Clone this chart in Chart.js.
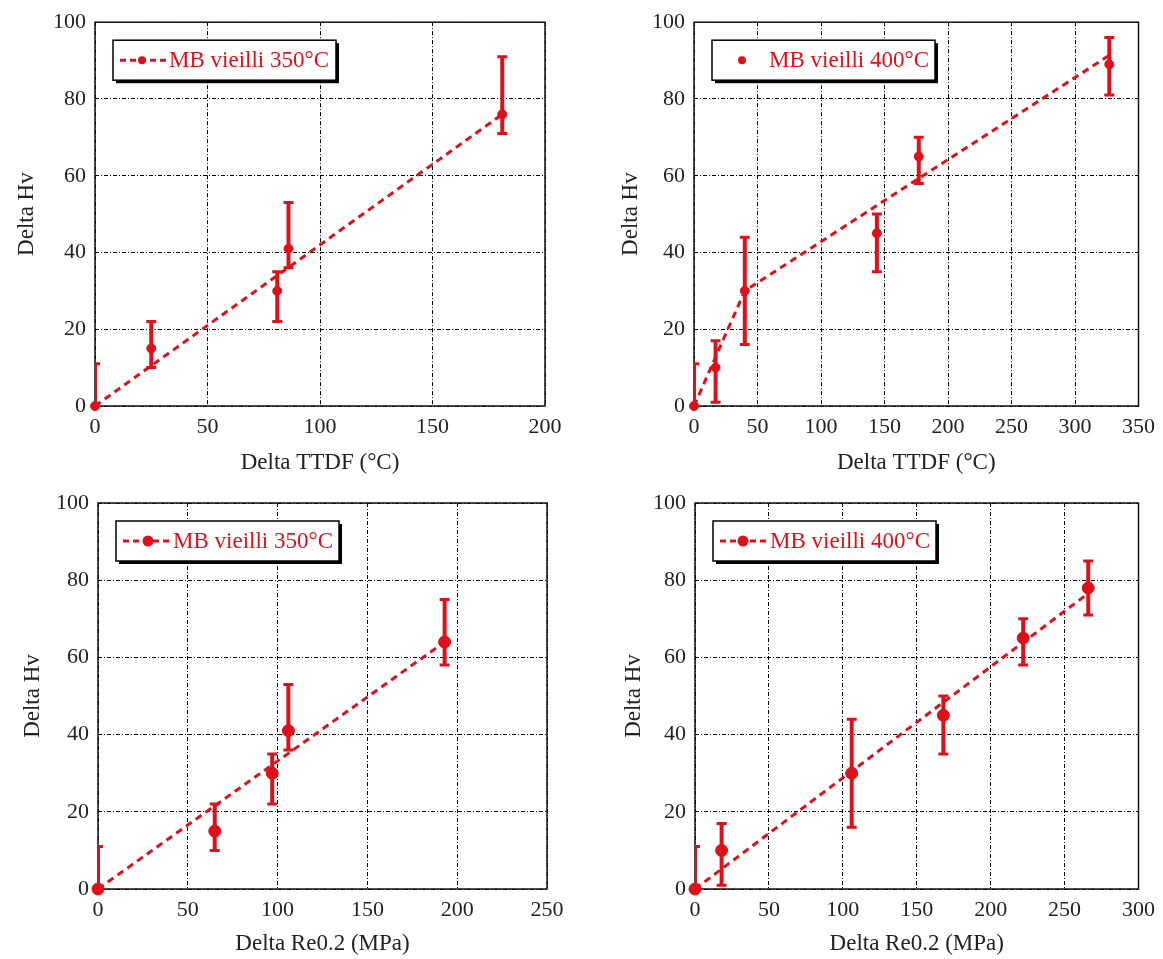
<!DOCTYPE html>
<html>
<head>
<meta charset="utf-8">
<script src="https://cdn.jsdelivr.net/npm/chart.js@4.4.1/dist/chart.umd.min.js"></script>
<style>
  body { margin: 0; background: #fff; }
  canvas { position: absolute; }
</style>
</head>
<body>
<canvas id="c1" width="580" height="480" style="left:0;top:0"></canvas>
<canvas id="c2" width="583" height="480" style="left:580px;top:0"></canvas>
<canvas id="c3" width="580" height="479" style="left:0;top:480px"></canvas>
<canvas id="c4" width="583" height="479" style="left:580px;top:480px"></canvas>
<script>
// panel 1 : Delta TTDF, 350°C
const ttdf350X = [0, 25, 81, 86, 181];
const ttdf350Y = [0, 15, 30, 41, 76];
const ttdf350Lo = [-11, 10, 22, 36, 71];
const ttdf350Hi = [11, 22, 35, 53, 91];
const ttdf350FitX = [0, 181];
const ttdf350FitY = [0, 76];

// panel 2 : Delta TTDF, 400°C
const ttdf400X = [0, 17, 40, 144, 177, 327];
const ttdf400Y = [0, 10, 30, 45, 65, 89];
const ttdf400Lo = [-11, 1, 16, 35, 58, 81];
const ttdf400Hi = [11, 17, 44, 50, 70, 96];
const ttdf400FitX = [0, 40, 330];
const ttdf400FitY = [0, 30, 92];

// panel 3 : Delta Re0.2, 350°C
const re350X = [0, 65, 97, 106, 193];
const re350Y = [0, 15, 30, 41, 64];
const re350Lo = [-11, 10, 22, 36, 58];
const re350Hi = [11, 22, 35, 53, 75];
const re350FitX = [0, 193];
const re350FitY = [0, 64];

// panel 4 : Delta Re0.2, 400°C
const re400X = [0, 18, 106, 168, 222, 266];
const re400Y = [0, 10, 30, 45, 65, 78];
const re400Lo = [-11, 1, 16, 35, 58, 71];
const re400Hi = [11, 17, 44, 50, 70, 85];
const re400FitX = [0, 264];
const re400FitY = [0, 76];

const yTicks = [0, 20, 40, 60, 80, 100];
const label350 = "MB vieilli 350°C";
const label400 = "MB vieilli 400°C";
const yTitle = "Delta Hv";
const xTitleTTDF = "Delta TTDF (°C)";
const xTitleRe = "Delta Re0.2 (MPa)";

const RED = "rgb(222,16,26)";
const FONT = "'Liberation Serif', 'Times New Roman', serif";

function pts(xs, ys) {
    return xs.map((x, i) => ({ x: x, y: ys[i] }));
}

function makePanel(id, p) {
    const frameAndBars = {
        id: "frameAndBars" + id,
        beforeDatasetsDraw(chart) {
            const a = chart.chartArea, ctx = chart.ctx;
            ctx.save();
            ctx.strokeStyle = "#111";
            ctx.lineWidth = 1.5;
            ctx.strokeRect(a.left, a.top, a.right - a.left, a.bottom - a.top);
            ctx.restore();
        },
        afterDatasetsDraw(chart) {
            const a = chart.chartArea, ctx = chart.ctx;
            const xs = chart.scales.x, ys = chart.scales.y;
            ctx.save();
            ctx.beginPath();
            ctx.rect(a.left, a.top, a.right - a.left, a.bottom - a.top);
            ctx.clip();
            ctx.strokeStyle = RED;
            for (let i = 0; i < p.x.length; i++) {
                const px = xs.getPixelForValue(p.x[i]);
                const lo = ys.getPixelForValue(p.lo[i]);
                const hi = ys.getPixelForValue(p.hi[i]);
                ctx.lineWidth = 4;
                ctx.beginPath();
                ctx.moveTo(px, lo);
                ctx.lineTo(px, hi);
                ctx.stroke();
                ctx.lineWidth = 3;
                ctx.beginPath();
                ctx.moveTo(px - 5, lo); ctx.lineTo(px + 5, lo);
                ctx.moveTo(px - 5, hi); ctx.lineTo(px + 5, hi);
                ctx.stroke();
            }
            ctx.restore();
        },
        afterDraw(chart) {
            // legend box inside the plot, top left
            const a = chart.chartArea, ctx = chart.ctx;
            const bx = a.left + 18, by = a.top + 18, bw = 223, bh = 40;
            ctx.save();
            ctx.fillStyle = "#000";
            ctx.fillRect(bx + 3, by + 3, bw, bh);
            ctx.fillStyle = "#fff";
            ctx.fillRect(bx, by, bw, bh);
            ctx.strokeStyle = "#000";
            ctx.lineWidth = 1.5;
            ctx.strokeRect(bx, by, bw, bh);
            const cy = by + bh / 2;
            ctx.strokeStyle = RED;
            ctx.fillStyle = RED;
            if (p.legendLine) {
                ctx.lineWidth = 3;
                ctx.setLineDash([6, 4]);
                ctx.beginPath();
                ctx.moveTo(bx + 7, cy);
                ctx.lineTo(bx + 53, cy);
                ctx.stroke();
                ctx.setLineDash([]);
            }
            ctx.beginPath();
            ctx.arc(bx + p.legendDot, cy, p.radius - 0.5, 0, Math.PI * 2);
            ctx.fill();
            ctx.font = "23px " + FONT;
            ctx.textBaseline = "middle";
            ctx.fillText(p.label, bx + p.legendText, cy + 1);
            ctx.restore();
        }
    };

    new Chart(id, {
        type: "scatter",
        data: {
            datasets: [{
                label: p.label,
                data: pts(p.x, p.y),
                pointRadius: p.radius,
                pointBackgroundColor: RED,
                pointBorderColor: RED,
                showLine: false,
                clip: false
            }, {
                label: "fit",
                data: pts(p.fitX, p.fitY),
                showLine: true,
                borderColor: RED,
                borderWidth: 3,
                borderDash: [7, 5],
                pointRadius: 0,
                fill: false
            }]
        },
        options: {
            responsive: false,
            animation: false,
            events: [],
            layout: { padding: { left: 0, right: p.padRight, top: p.top, bottom: 0 } },
            plugins: { legend: { display: false }, tooltip: { enabled: false } },
            scales: {
                x: {
                    type: "linear",
                    min: 0,
                    max: p.xMax,
                    afterFit: s => { s.height = p.xHeight; },
                    afterBuildTicks: s => { s.ticks = p.xTicks.map(v => ({ value: v })); },
                    grid: { color: "#000", lineWidth: 1, drawTicks: false },
                    border: { display: false, dash: [4, 2, 1, 2] },
                    ticks: { color: "#222", padding: 8, font: { family: FONT, size: 22 } },
                    title: {
                        display: true,
                        text: p.xTitle,
                        color: "#222",
                        font: { family: FONT, size: 23 },
                        padding: { top: 0, bottom: p.xTitlePad }
                    }
                },
                y: {
                    type: "linear",
                    min: 0,
                    max: 100,
                    afterFit: s => { s.width = p.left; },
                    afterBuildTicks: s => { s.ticks = yTicks.map(v => ({ value: v })); },
                    grid: { color: "#000", lineWidth: 1, drawTicks: false },
                    border: { display: false, dash: [4, 2, 1, 2] },
                    ticks: { color: "#222", padding: 9, font: { family: FONT, size: 22 } },
                    title: {
                        display: true,
                        text: yTitle,
                        color: "#222",
                        font: { family: FONT, size: 23 },
                        padding: { top: p.yTitlePad, bottom: 0 }
                    }
                }
            }
        },
        plugins: [frameAndBars]
    });
}

makePanel("c1", {
    x: ttdf350X, y: ttdf350Y, lo: ttdf350Lo, hi: ttdf350Hi, fitX: ttdf350FitX, fitY: ttdf350FitY,
    label: label350, xTitle: xTitleTTDF, xMax: 200, xTicks: [0, 50, 100, 150, 200],
    left: 95, padRight: 35, top: 21, xHeight: 74, xTitlePad: 3, yTitlePad: 13,
    radius: 4.5, legendLine: true, legendDot: 29, legendText: 56
});
makePanel("c2", {
    x: ttdf400X, y: ttdf400Y, lo: ttdf400Lo, hi: ttdf400Hi, fitX: ttdf400FitX, fitY: ttdf400FitY,
    label: label400, xTitle: xTitleTTDF, xMax: 350, xTicks: [0, 50, 100, 150, 200, 250, 300, 350],
    left: 114, padRight: 22, top: 21, xHeight: 74, xTitlePad: 3, yTitlePad: 37,
    radius: 4.5, legendLine: false, legendDot: 30, legendText: 57
});
makePanel("c3", {
    x: re350X, y: re350Y, lo: re350Lo, hi: re350Hi, fitX: re350FitX, fitY: re350FitY,
    label: label350, xTitle: xTitleRe, xMax: 250, xTicks: [0, 50, 100, 150, 200, 250],
    left: 98, padRight: 33, top: 23, xHeight: 70, xTitlePad: 1, yTitlePad: 19,
    radius: 6, legendLine: true, legendDot: 32, legendText: 57
});
makePanel("c4", {
    x: re400X, y: re400Y, lo: re400Lo, hi: re400Hi, fitX: re400FitX, fitY: re400FitY,
    label: label400, xTitle: xTitleRe, xMax: 300, xTicks: [0, 50, 100, 150, 200, 250, 300],
    left: 115, padRight: 22, top: 23, xHeight: 70, xTitlePad: 1, yTitlePad: 40,
    radius: 6, legendLine: true, legendDot: 30, legendText: 57
});
</script>
</body>
</html>
